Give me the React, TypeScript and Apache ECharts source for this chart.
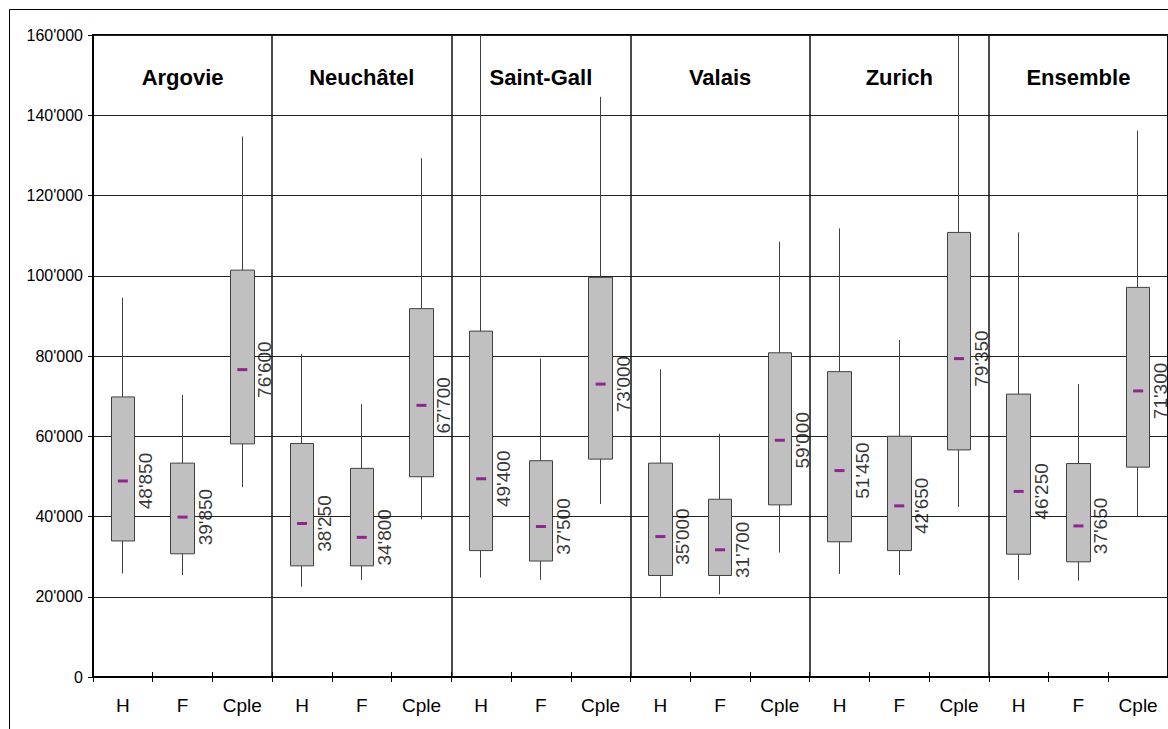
import React, { useEffect, useRef } from "react";
import * as echarts from "echarts";

const CATEGORIES = [
  "H", "F", "Cple", "H", "F", "Cple", "H", "F", "Cple",
  "H", "F", "Cple", "H", "F", "Cple", "H", "F", "Cple",
];
const GROUPS = ["Argovie", "Neuchâtel", "Saint-Gall", "Valais", "Zurich", "Ensemble"];

const LOW = [25800, 25400, 47300, 22500, 24200, 39300, 24800, 24200, 43100, 20000, 20600, 31000, 25700, 25400, 42400, 24200, 24000, 40100];
const Q1 = [33900, 30700, 58100, 27700, 27700, 49900, 31500, 28900, 54300, 25300, 25300, 42900, 33700, 31500, 56600, 30600, 28700, 52300];
const MEDIAN = [48850, 39850, 76600, 38250, 34800, 67700, 49400, 37500, 73000, 35000, 31700, 59000, 51450, 42650, 79350, 46250, 37650, 71300];
const Q3 = [69800, 53300, 101400, 58200, 52000, 91800, 86200, 53900, 99600, 53300, 44300, 80800, 76100, 60000, 110800, 70500, 53200, 97100];
const HIGH = [94500, 70300, 134700, 80500, 68000, 129300, 160000, 79400, 144600, 76700, 60600, 108500, 111800, 84000, 160000, 110800, 73000, 136200];

const Y_MIN = 0;
const Y_MAX = 160000;
const Y_STEP = 20000;

const FONT = "'Liberation Sans', Arial, sans-serif";

const fmt = (n: number) =>
  n === 0 ? "0" : String(Math.round(n)).replace(/\B(?=(\d{3})+(?!\d))/g, "'");

export default function App() {
  const ref = useRef<HTMLDivElement>(null);

  useEffect(() => {
    if (!ref.current) return;
    const chart = echarts.init(ref.current, undefined, { renderer: "svg" });

    const candleData = CATEGORIES.map((_, i) => [Q1[i], Q3[i], LOW[i], HIGH[i]]);
    const medianData = CATEGORIES.map((_, i) => [i, MEDIAN[i]]);

    chart.setOption({
      animation: false,
      backgroundColor: "#fff",
      textStyle: { fontFamily: FONT },
      graphic: [
        {
          type: "rect",
          silent: true,
          z: -10,
          shape: { x: 9.5, y: 9.5, width: 1400, height: 1000 },
          style: { fill: "none", stroke: "#000", lineWidth: 1 },
        },
      ],
      grid: {
        left: 93,
        top: 35,
        width: 1078,
        height: 642,
        show: true,
        borderColor: "#000",
        borderWidth: 2,
        backgroundColor: "transparent",
      },
      xAxis: [
        {
          type: "category",
          data: CATEGORIES,
          position: "bottom",
          boundaryGap: true,
          axisLine: { show: true, lineStyle: { color: "#000", width: 2 } },
          axisTick: { show: true, length: 5, lineStyle: { color: "#000", width: 1 } },
          axisLabel: {
            color: "#000",
            fontSize: 19,
            fontFamily: FONT,
            margin: 19,
            interval: 0,
          },
          splitLine: { show: false },
        },
        {
          type: "category",
          data: CATEGORIES,
          position: "bottom",
          boundaryGap: true,
          axisLine: { show: false },
          axisTick: { show: true, inside: true, length: 5, lineStyle: { color: "#000", width: 1 } },
          axisLabel: { show: false },
          splitLine: {
            show: true,
            interval: (i: number) => i > 0 && i % 3 === 0,
            lineStyle: { color: "#111", width: 1.5 },
          },
        },
        {
          type: "category",
          data: GROUPS,
          position: "top",
          boundaryGap: true,
          axisLine: { show: false },
          axisTick: { show: false },
          axisLabel: {
            inside: true,
            margin: 31,
            color: "#000",
            fontSize: 22,
            fontWeight: "bold",
            fontFamily: FONT,
            interval: 0,
          },
          splitLine: { show: false },
        },
      ],
      yAxis: {
        type: "value",
        min: Y_MIN,
        max: Y_MAX,
        interval: Y_STEP,
        axisLine: { show: true, lineStyle: { color: "#000", width: 1 } },
        axisTick: { show: true, length: 5, lineStyle: { color: "#000" } },
        axisLabel: {
          color: "#000",
          fontSize: 16,
          fontFamily: FONT,
          margin: 10,
          formatter: (v: number) => fmt(v),
        },
        splitLine: { show: true, lineStyle: { color: "#222", width: 1 } },
      },
      series: [
        {
          type: "candlestick",
          xAxisIndex: 0,
          data: candleData,
          barWidth: 24,
          itemStyle: {
            color: "#C0C0C0",
            color0: "#C0C0C0",
            borderColor: "#404040",
            borderColor0: "#404040",
            borderWidth: 1,
          },
          z: 3,
        },
        {
          type: "scatter",
          xAxisIndex: 0,
          data: medianData,
          symbol: "rect",
          symbolSize: [10, 3],
          itemStyle: { color: "#800080" },
          z: 4,
          label: {
            show: true,
            position: [18, 1.5],
            rotate: 90,
            align: "center",
            verticalAlign: "top",
            color: "#000",
            fontSize: 19,
            fontFamily: FONT,
            formatter: (p: any) => fmt(p.value[1]),
          },
        },
      ],
    });

    return () => chart.dispose();
  }, []);

  return (
    <div
      ref={ref}
      style={{ position: "fixed", left: 0, top: 0, width: 1168, height: 729 }}
    />
  );
}
